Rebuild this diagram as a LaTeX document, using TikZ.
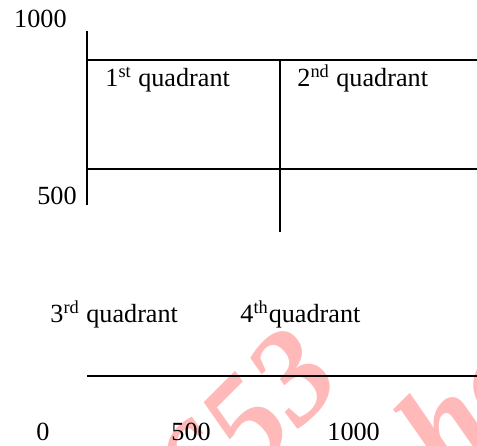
\documentclass[tikz,border=0pt]{standalone}
\usepackage{fontspec}
\setmainfont{Liberation Serif}
\definecolor{wm}{RGB}{255,185,185}
\begin{document}
\begin{tikzpicture}[x=0.5pt,y=-0.5pt,
  lbl/.style={inner sep=0pt,font=\fontsize{13.1}{15}\selectfont},
  grid/.style={line width=0.8pt,black},
  wmark/.style={inner sep=0pt,text=wm,rotate=45,font=\bfseries\itshape\fontsize{66}{70}\selectfont}]
\useasboundingbox (0,0) rectangle (477,445);
\begin{scope}
\clip (0,0) rectangle (477,445);
\node[wmark,anchor=base east] (wm1) at (346,383) {653};
\node[wmark,anchor=base west] (wm2) at (449,484) {ho};
\end{scope}
% grid
\draw[grid] (87,31) -- (87,205);
\draw[grid] (87,60) -- (477,60);
\draw[grid] (87,169) -- (477,169);
\draw[grid] (280,60) -- (280,232);
\draw[grid] (87,376) -- (477,376);
% labels
\node[lbl,anchor=base east] (y1000) at (67,27) {1000};
\node[lbl,anchor=base east] (y500) at (77,204) {500};
\node[lbl,anchor=base west] (q1) at (105,86) {1\textsuperscript{st} quadrant};
\node[lbl,anchor=base west] (q2) at (297,86) {2\textsuperscript{nd} quadrant};
\node[lbl,anchor=base west] (q3) at (50,322) {3\textsuperscript{rd} quadrant};
\node[lbl,anchor=base west] (q4) at (240,322) {4\textsuperscript{th}quadrant};
\node[lbl,anchor=base west] (x0) at (36,440) {0};
\node[lbl,anchor=base west] (x500) at (171,440) {500};
\node[lbl,anchor=base west] (x1000) at (327,440) {1000};
\end{tikzpicture}
\end{document}
